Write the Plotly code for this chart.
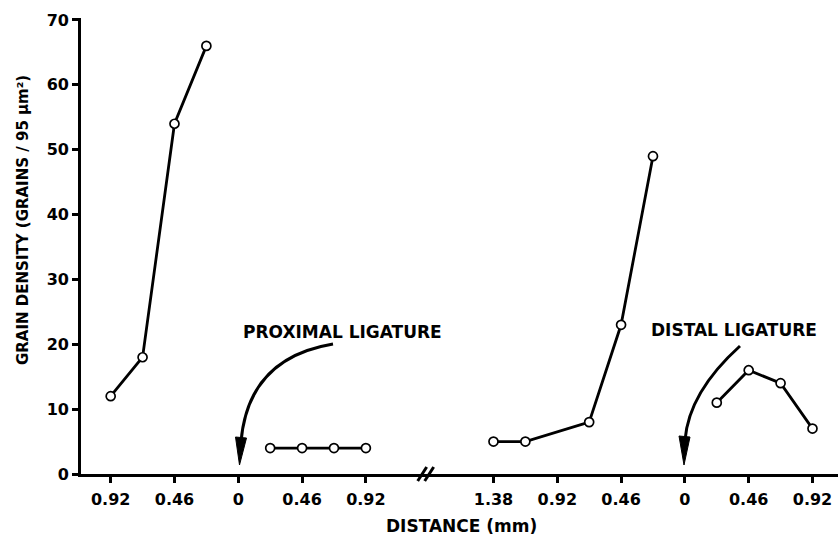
import plotly.graph_objects as go

# ---- data (distances in mm from each ligature, grain density) ----
prox_left_dist = [0.92, 0.69, 0.46, 0.23]
prox_left_val = [12, 18, 54, 66]
prox_right_dist = [0.23, 0.46, 0.69, 0.92]
prox_right_val = [4, 4, 4, 4]
dist_left_dist = [1.38, 1.15, 0.69, 0.46, 0.23]
dist_left_val = [5, 5, 8, 23, 49]
dist_right_dist = [0.23, 0.46, 0.69, 0.92]
dist_right_val = [11, 16, 14, 7]

tick_labels = ["0.92", "0.46", "0", "0.46", "0.92", "1.38", "0.92", "0.46", "0", "0.46", "0.92"]
y_ticks = [0, 10, 20, 30, 40, 50, 60, 70]

PROX0 = 0.0    # proximal ligature position on composite axis
DIST0 = 3.22   # distal ligature position on composite axis (after break)
BREAK = 1.38

tick_vals = [PROX0 - 0.92, PROX0 - 0.46, PROX0, PROX0 + 0.46, PROX0 + 0.92,
             DIST0 - 1.38, DIST0 - 0.92, DIST0 - 0.46, DIST0, DIST0 + 0.46, DIST0 + 0.92]

XMIN, XMAX = -1.134, 4.324
YMIN, YMAX = 0, 70.3

FONT = "DejaVu Sans"

def series(xs, ys):
    return go.Scatter(
        x=xs, y=ys, mode="lines+markers",
        line=dict(color="black", width=2.8),
        marker=dict(symbol="circle", size=9, color="white",
                    line=dict(color="black", width=1.7)),
        showlegend=False, hoverinfo="skip",
    )

fig = go.Figure()
fig.add_trace(series([PROX0 - d for d in prox_left_dist], prox_left_val))
fig.add_trace(series([PROX0 + d for d in prox_right_dist], prox_right_val))
fig.add_trace(series([DIST0 - d for d in dist_left_dist], dist_left_val))
fig.add_trace(series([DIST0 + d for d in dist_right_dist], dist_right_val))

L, R, T, B = 81, 0, 18, 62
W, H = 838, 536
pw = W - L - R
ph = H - T - B

def px2x(px):
    return XMIN + (px - L) / pw * (XMAX - XMIN)

def py2y(py):
    return YMIN + (H - B - py) / ph * (YMAX - YMIN)

shapes = []
# curved arrows (quadratic bezier) pointing at each ligature
def curve(p0, c, p1):
    x0, y0 = px2x(p0[0]), py2y(p0[1])
    cx, cy = px2x(c[0]), py2y(c[1])
    x1, y1 = px2x(p1[0]), py2y(p1[1])
    return dict(type="path", xref="x", yref="y",
                path=f"M {x0},{y0} Q {cx},{cy} {x1},{y1}",
                line=dict(color="black", width=3))

def head(a, b, tip):
    pts = [a, b, tip]
    p = "M " + " L ".join(f"{px2x(x)},{py2y(y)}" for x, y in pts) + " Z"
    return dict(type="path", xref="x", yref="y", path=p,
                fillcolor="black", line=dict(color="black", width=1))

shapes.append(curve((333, 344), (248, 358), (241, 442)))
shapes.append(head((235.5, 437), (246.5, 438), (239.5, 465)))
shapes.append(curve((740, 346), (689, 392), (685, 440)))
shapes.append(head((679, 436), (690, 437), (684, 465)))

# axis break marks "//"
bx = (DIST0 - BREAK - 0.46 - XMIN) / (XMAX - XMIN)  # position of break on paper
dxp = 4.5 / pw
dyp = 7 / ph
for off in (-3.5 / pw, 3.5 / pw):
    shapes.append(dict(type="line", xref="paper", yref="paper",
                       x0=bx - 4 / pw + off - dxp, y0=-dyp, x1=bx - 4 / pw + off + dxp, y1=dyp,
                       line=dict(color="black", width=3)))

ann_font = dict(family=FONT, size=17, color="black", weight="bold")
annotations = [
    dict(text="PROXIMAL LIGATURE", x=px2x(342), y=py2y(332), xref="x", yref="y",
         showarrow=False, font=ann_font, xanchor="center", yanchor="middle"),
    dict(text="DISTAL LIGATURE", x=px2x(734), y=py2y(330), xref="x", yref="y",
         showarrow=False, font=ann_font, xanchor="center", yanchor="middle"),
    dict(text="GRAIN DENSITY (GRAINS / 95 μm²)", x=(23 - L) / pw, y=(H - B - 220) / ph,
         xref="paper", yref="paper", textangle=-90, showarrow=False,
         xanchor="center", yanchor="middle",
         font=dict(family=FONT, size=15, color="black", weight="bold")),
    dict(text="DISTANCE (mm)", x=(461 - L) / pw, y=(H - B - 526) / ph,
         xref="paper", yref="paper", showarrow=False, font=ann_font,
         xanchor="center", yanchor="middle"),
]

fig.update_layout(
    width=W, height=H,
    margin=dict(l=L, r=R, t=T, b=B, pad=0),
    paper_bgcolor="white", plot_bgcolor="white",
    font=dict(family=FONT, size=16, color="black", weight="bold"),
    shapes=shapes, annotations=annotations,
    xaxis=dict(range=[XMIN, XMAX], tickmode="array", tickvals=tick_vals,
               ticktext=tick_labels, showgrid=False, zeroline=False,
               showline=True, linecolor="black", linewidth=2.8,
               ticks="outside", ticklen=6, tickwidth=2.6, tickcolor="black",
               ticklabelstandoff=3,
               tickfont=dict(family=FONT, size=16, color="black", weight="bold")),
    yaxis=dict(range=[YMIN, YMAX], tickmode="array", tickvals=y_ticks,
               showgrid=False, zeroline=False,
               showline=True, linecolor="black", linewidth=2.8,
               ticks="outside", ticklen=6, tickwidth=2.6, tickcolor="black",
               tickfont=dict(family=FONT, size=16, color="black", weight="bold")),
)

fig.write_html("out.html")
